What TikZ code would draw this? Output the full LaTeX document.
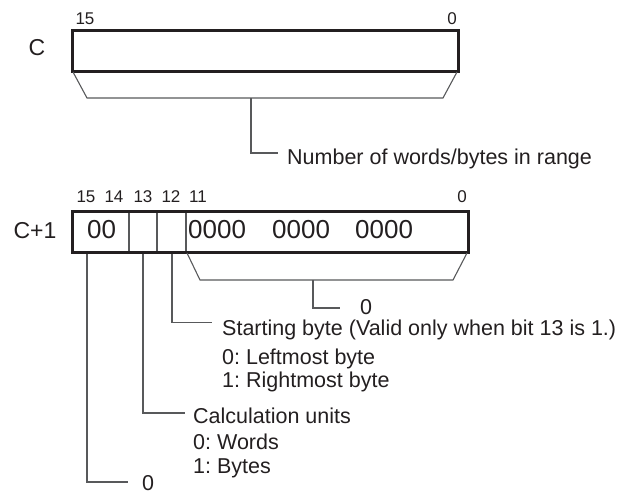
\documentclass[tikz,border=0pt]{standalone}
\usepackage{fontspec}
\setmainfont{Liberation Sans}
\frenchspacing
\definecolor{txt}{HTML}{231F20}
\definecolor{thinc}{HTML}{58595B}
\begin{document}
\begin{tikzpicture}[x=1pt,y=-1pt,
  lbl/.style={font=\fontsize{21.5}{24}\selectfont, inner sep=0pt, anchor=base west, text=txt},
  regname/.style={font=\fontsize{23}{26}\selectfont, inner sep=0pt, anchor=base, text=txt},
  bitno/.style={font=\fontsize{17}{19}\selectfont, inner sep=0pt, anchor=base, text=txt},
  cell/.style={font=\fontsize{26}{28}\selectfont, inner sep=0pt, anchor=base west, text=txt},
  regbox/.style={draw=txt, line width=3pt},
  thinline/.style={draw=thinc, line width=1.1pt}]
\useasboundingbox (0,0) rectangle (626,493);

% ---------- register C ----------
\node[regname] (cname) at (37,55) {C};
\node[bitno] (c15) at (85,24) {15};
\node[bitno] (c0) at (452,24) {0};
\coordinate (ctl) at (72,30);
\coordinate (cbr) at (458,71);
\draw[regbox] (ctl) rectangle (cbr);
\coordinate (ta) at (73,72);
\coordinate (tb) at (87,98);
\coordinate (tc) at (443,98);
\coordinate (td) at (457,72);
\draw[thinline] (ta) -- (tb) -- (tc) -- (td);
\coordinate (ts) at (251,98);
\coordinate (te) at (278,153);
\node[lbl] (nwords) at (287,164) {Number of words/bytes in range};
\draw[thinline] (ts) |- (te);

% ---------- register C+1 ----------
\node[regname] (c1name) at (35,238) {C+1};
\node[bitno] (b15) at (86,202) {15};
\node[bitno] (b14) at (114,202) {14};
\node[bitno] (b13) at (143,202) {13};
\node[bitno] (b12) at (171,202) {12};
\node[bitno] (b11) at (198,202) {11};
\node[bitno] (b0) at (462,202) {0};
\coordinate (dtl) at (72,211);
\coordinate (dbr) at (468,252);
\coordinate (d1t) at (129,211);
\coordinate (d1b) at (129,252);
\coordinate (d2t) at (157,211);
\coordinate (d2b) at (157,252);
\coordinate (d3t) at (186,211);
\coordinate (d3b) at (186,252);
\draw[thinline] (d1t) -- (d1b) (d2t) -- (d2b) (d3t) -- (d3b);
\draw[regbox] (dtl) rectangle (dbr);
\node[cell] (v00) at (87,238) {00};
\node[cell] (g1) at (188,238) {0000};
\node[cell] (g2) at (272,238) {0000};
\node[cell] (g3) at (355,238) {0000};

% bracket for bits 11-0
\coordinate (ua) at (187,253);
\coordinate (ub) at (200,280);
\coordinate (uc) at (453,280);
\coordinate (ud) at (467,253);
\draw[thinline] (ua) -- (ub) -- (uc) -- (ud);
\coordinate (us) at (313,280);
\coordinate (ue) at (340,308);
\draw[thinline] (us) |- (ue);
\node[lbl] (zero1) at (360,314) {0};

% bit 12
\coordinate (s12) at (172,253.5);
\coordinate (e12) at (212,322.5);
\draw[thinline] (s12) |- (e12);
\node[lbl] (sbyte) at (222,335) {Starting byte (Valid only when bit 13 is 1.)};
\node[lbl] (sbyte0) at (222,364) {0: Leftmost byte};
\node[lbl] (sbyte1) at (222,387) {1: Rightmost byte};

% bit 13
\coordinate (s13) at (143,253.5);
\coordinate (e13) at (185,413);
\draw[thinline] (s13) |- (e13);
\node[lbl] (cunits) at (193,423) {Calculation units};
\node[lbl] (cunits0) at (193,449) {0: Words};
\node[lbl] (cunits1) at (193,473) {1: Bytes};

% bits 15-14
\coordinate (s15) at (87,253.5);
\coordinate (e15) at (128,482);
\draw[thinline] (s15) |- (e15);
\node[lbl] (zero2) at (142,490) {0};
\end{tikzpicture}
\end{document}
